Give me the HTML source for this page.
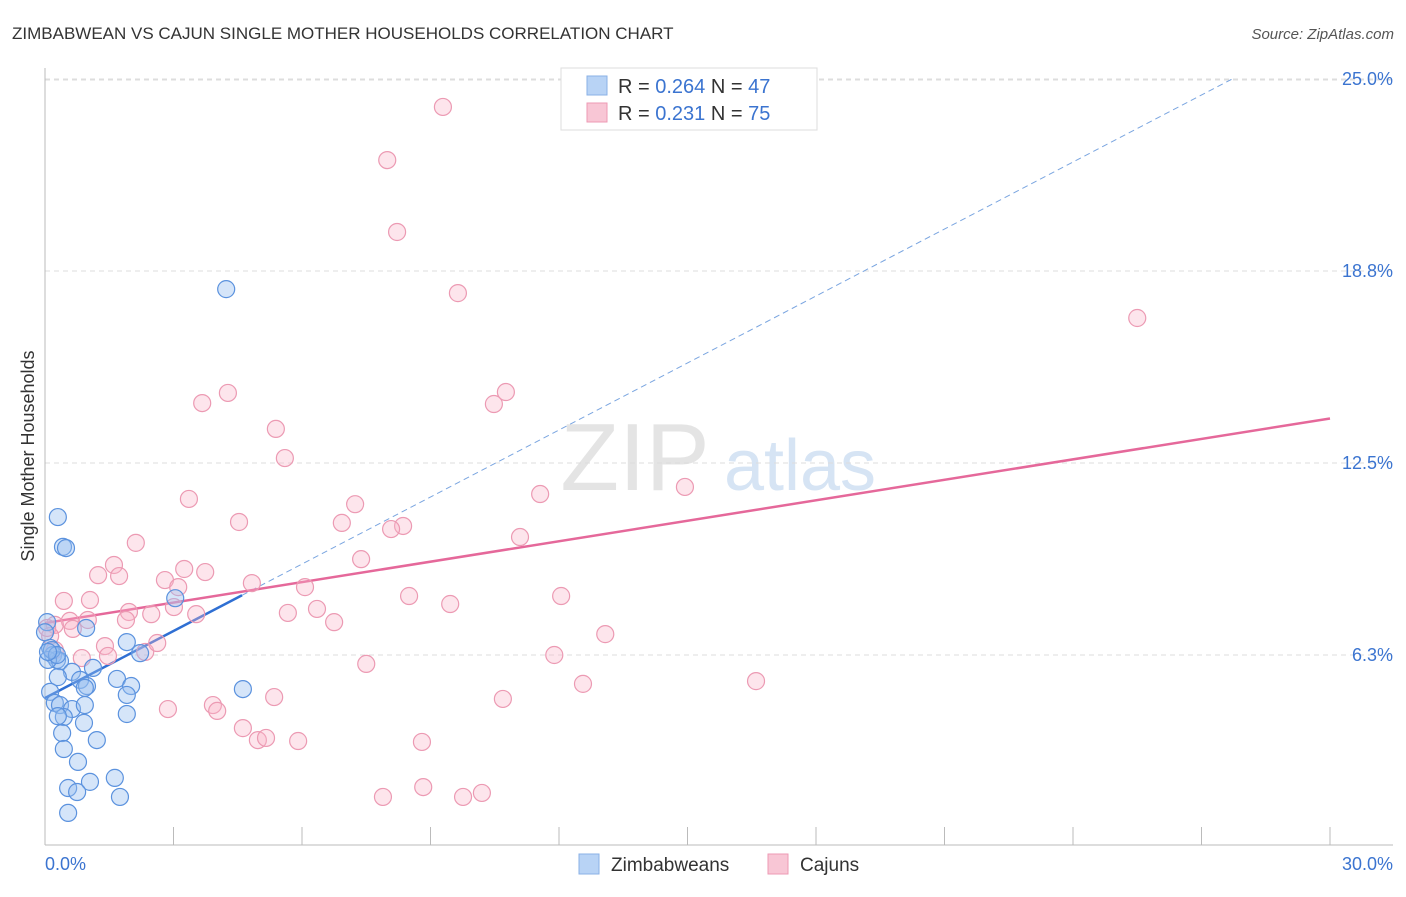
<!DOCTYPE html>
<html><head><meta charset="utf-8"><style>
body{margin:0;background:#fff;font-family:"Liberation Sans",sans-serif}
svg text{font-family:"Liberation Sans",sans-serif}
</style></head><body>
<svg id="chart" width="1406" height="892" xmlns="http://www.w3.org/2000/svg">
<text x="12" y="39" font-size="17" fill="#333">ZIMBABWEAN VS CAJUN SINGLE MOTHER HOUSEHOLDS CORRELATION CHART</text>
<text x="1394" y="39" font-size="15" fill="#555" text-anchor="end" font-style="italic">Source: ZipAtlas.com</text>
<g>
<text x="635" y="490" font-size="96" fill="#e4e4e4" font-family="Liberation Serif" text-anchor="middle">ZIP</text>
<text x="800" y="490" font-size="72" fill="#d6e4f4" text-anchor="middle">atlas</text>
</g>
<g id="grid"></g>
<g id="axes"></g>
<g id="trend"></g>
<g id="pts"></g>
<text transform="translate(34,456) rotate(-90)" font-size="18" fill="#333" text-anchor="middle">Single Mother Households</text>
<g>
<rect x="561" y="68" width="256" height="62" fill="#fff" stroke="#ddd"/>
<rect x="587" y="76" width="20" height="19" fill="#b8d3f5" stroke="#8ab0e6"/>
<rect x="587" y="103" width="20" height="19" fill="#f8c6d5" stroke="#ee9ab4"/>
<text x="618" y="93" font-size="20" fill="#333">R = <tspan fill="#3b74d0">0.264</tspan>   N = <tspan fill="#3b74d0">47</tspan></text>
<text x="618" y="120" font-size="20" fill="#333">R =  <tspan fill="#3b74d0">0.231</tspan>   N = <tspan fill="#3b74d0">75</tspan></text>
</g>
<g>
<rect x="579" y="854" width="20" height="20" fill="#b8d3f5" stroke="#8ab0e6"/>
<text x="611" y="871" font-size="19" fill="#333">Zimbabweans</text>
<rect x="768" y="854" width="20" height="20" fill="#f8c6d5" stroke="#ee9ab4"/>
<text x="800" y="871" font-size="19" fill="#333">Cajuns</text>
</g>
</svg>
<script>
const yTicks=[25,18.75,12.5,6.25];
const yTickLabels=["25.0%","18.8%","12.5%","6.3%"];
const xTickVals=[0,3,6,9,12,15,18,21,24,27,30];
const blueX=[0.30,0.42,0.49,0.05,0.0,0.12,0.19,0.28,0.35,0.07,0.16,0.96,1.12,0.63,0.30,0.82,0.98,0.93,1.68,2.01,1.91,2.22,3.04,0.12,0.23,0.35,0.63,0.93,0.44,0.30,0.91,1.91,1.91,0.40,1.21,0.44,0.77,1.63,1.05,0.54,0.75,1.75,0.54,4.23,4.62,0.28,0.07];
const blueY=[10.74,9.77,9.73,7.32,6.99,6.48,6.25,6.09,6.05,6.09,6.41,7.13,5.83,5.70,5.53,5.44,5.24,5.18,5.47,5.24,6.67,6.31,8.10,5.05,4.69,4.62,4.49,4.62,4.23,4.26,4.04,4.95,4.33,3.71,3.48,3.19,2.77,2.25,2.12,1.92,1.79,1.63,1.11,18.16,5.14,6.25,6.35];
const pinkX=[9.29,7.99,8.22,9.64,25.50,10.76,10.48,4.27,3.67,5.39,5.60,3.36,11.56,14.94,4.53,7.24,6.93,8.36,8.08,11.09,2.12,1.61,1.24,1.73,3.25,3.74,2.80,3.11,4.83,6.07,7.38,0.44,1.05,1.96,2.48,3.01,3.53,5.67,6.35,6.75,8.50,9.46,12.05,0.58,1.00,1.89,0.23,0.12,0.65,1.40,1.47,0.86,2.34,2.62,13.08,11.89,7.50,12.56,16.60,5.35,10.69,2.87,3.92,4.02,4.62,4.97,5.16,5.91,8.80,8.83,7.89,9.76,10.20,0.23,0.05];
const pinkY=[24.09,22.36,20.02,18.03,17.22,14.81,14.42,14.78,14.45,13.61,12.66,11.33,11.49,11.72,10.58,11.16,10.55,10.45,10.35,10.09,9.90,9.18,8.85,8.82,9.05,8.95,8.69,8.46,8.59,8.46,9.37,8.01,8.04,7.65,7.58,7.81,7.58,7.62,7.75,7.32,8.17,7.91,8.17,7.36,7.39,7.39,7.23,6.87,7.10,6.54,6.22,6.15,6.35,6.64,6.93,6.25,5.96,5.31,5.40,4.88,4.82,4.49,4.62,4.43,3.87,3.48,3.55,3.45,3.42,1.95,1.63,1.63,1.76,6.41,7.13];
const blueTrend=[4.85,0.727]; const blueSolidEnd=4.6, blueDashEnd=27.7;
const pinkTrend=[7.29,0.222];
const NS="http://www.w3.org/2000/svg";
const xs=v=>45+v/30*1285, ys=v=>847-v/6.25*192;
function mk(tag,attrs,parent){const e=document.createElementNS(NS,tag);for(const k in attrs)e.setAttribute(k,attrs[k]);document.getElementById(parent).appendChild(e);return e;}
mk('line',{x1:45,x2:1393,y1:80,y2:80,stroke:'#ddd','stroke-dasharray':'5,4'},'grid');
yTicks.forEach((t,i)=>{
  const l=mk('line',{x1:45,x2:1393,y1:ys(t),y2:ys(t),stroke:'#ddd','stroke-dasharray':'5,4'},'grid');
  
  
  const tx=mk('text',{x:1393,y:ys(t)+6,'font-size':18,fill:'#3b74d0','text-anchor':'end'},'axes');
  tx.textContent=yTickLabels[i];
  
  
});
mk('line',{x1:45,x2:45,y1:68,y2:845,stroke:'#bbb'},'axes');
mk('line',{x1:45,x2:1393,y1:845,y2:845,stroke:'#bbb'},'axes');
xTickVals.forEach(v=>{
  const t=mk('line',{x1:xs(v),x2:xs(v),y1:827,y2:845,stroke:'#bbb'},'axes');
  
  
});
const xl0=mk('text',{x:45,y:870,'font-size':18,fill:'#3b74d0'},'axes');xl0.textContent='0.0%';


const xl1=mk('text',{x:1393,y:870,'font-size':18,fill:'#3b74d0','text-anchor':'end'},'axes');xl1.textContent='30.0%';


pinkX.forEach((x,i)=>{
  const c=mk('circle',{cx:xs(x),cy:ys(pinkY[i]),r:8.5,fill:'rgba(248,180,200,0.35)',stroke:'#ec9ab3','stroke-width':1.2},'pts');
  
  
});
blueX.forEach((x,i)=>{
  const c=mk('circle',{cx:xs(x),cy:ys(blueY[i]),r:8.5,fill:'rgba(150,190,240,0.4)',stroke:'#5b92de','stroke-width':1.2},'pts');
  
  
});
const bd=mk('line',{x1:xs(blueSolidEnd),y1:ys(blueTrend[0]+blueTrend[1]*blueSolidEnd),x2:xs(blueDashEnd),y2:ys(blueTrend[0]+blueTrend[1]*blueDashEnd),stroke:'#7aa5e0','stroke-width':1,'stroke-dasharray':'6,4'},'trend');


const bs=mk('line',{x1:xs(0),y1:ys(blueTrend[0]),x2:xs(blueSolidEnd),y2:ys(blueTrend[0]+blueTrend[1]*blueSolidEnd),stroke:'#2f6fd3','stroke-width':2.5},'trend');


const ps=mk('line',{x1:xs(0),y1:ys(pinkTrend[0]),x2:xs(30),y2:ys(pinkTrend[0]+pinkTrend[1]*30),stroke:'#e5689a','stroke-width':2.5},'trend');


</script>
</body></html>
